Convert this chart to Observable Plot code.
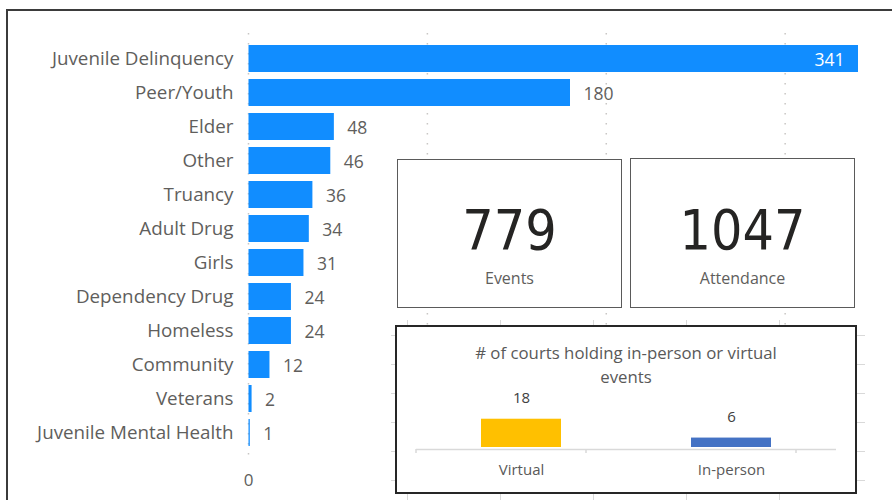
<!DOCTYPE html>
<html>
<head>
<meta charset="utf-8">
<script src="https://cdn.jsdelivr.net/npm/d3@7"></script>
<script src="https://cdn.jsdelivr.net/npm/@observablehq/plot@0.6"></script>
<style>
  html, body { margin: 0; padding: 0; background: #fff; }
  #wrap { position: relative; width: 892px; height: 500px; overflow: hidden; background: #fff; }
  #frame { position: absolute; left: 6px; top: 9px; width: 900px; height: 520px; border-left: 2px solid #3b3b3b; border-top: 2px solid #3b3b3b; }
  #main { position: absolute; left: 0; top: 0; }
  .card { position: absolute; box-sizing: border-box; background: #fff; border: 1.5px solid #5a5a5a; }
  .card .num { position: absolute; left: 0; right: 0; text-align: center; font-family: "Liberation Sans Narrow", "DejaVu Sans Condensed", sans-serif; font-size: 55px; color: #252423; line-height: 54px; height: 54px; }
  .card .lab { position: absolute; left: 0; right: 0; text-align: center; font-family: "Segoe UI", "Open Sans", sans-serif; font-size: 16px; color: #605E5C; line-height: 18px; height: 18px; }
  #cellgrid { position: absolute; left: 391px; top: 320px; width: 474px; height: 180px;
    background-image:
      repeating-linear-gradient(to right, transparent 0, transparent 16px, #d9d9d9 16px, #d9d9d9 17px, transparent 17px, transparent 93px),
      repeating-linear-gradient(to bottom, transparent 0, transparent 15px, #d9d9d9 15px, #d9d9d9 16px, transparent 16px, transparent 29px);
    background-size: 93px 100%, 100% 29px; }
  #box { position: absolute; box-sizing: border-box; left: 395px; top: 325px; width: 462px; height: 169px; background: #fff; border: 2px solid #262626; }
  #boxTitle { position: absolute; left: 395px; top: 341px; width: 462px; text-align: center; font-family: "Open Sans", sans-serif; font-size: 16.8px; line-height: 24px; color: #595959; }
  #small { position: absolute; left: 395px; top: 325px; }
</style>
</head>
<body>
<div id="wrap">
  <div id="frame"></div>
  <div id="main"></div>
  <div class="card" style="left:397px;top:159px;width:225px;height:149px;">
    <div class="num" id="n1" style="top:43px;"></div>
    <div class="lab" id="l1" style="top:109px;"></div>
  </div>
  <div class="card" style="left:630px;top:158px;width:225px;height:150px;">
    <div class="num" id="n2" style="top:44px;"></div>
    <div class="lab" id="l2" style="top:110px;"></div>
  </div>
  <div id="cellgrid"></div>
  <div id="box"></div>
  <div id="boxTitle"></div>
  <div id="small"></div>
</div>
<script>
// ---- Data ----
const courtTypes = ["Juvenile Delinquency", "Peer/Youth", "Elder", "Other", "Truancy", "Adult Drug", "Girls", "Dependency Drug", "Homeless", "Community", "Veterans", "Juvenile Mental Health"];
const courtCounts = [341, 180, 48, 46, 36, 34, 31, 24, 24, 12, 2, 1];
const xTicks = [0, 100, 200, 300];

const kpiLabels = ["Events", "Attendance"];
const kpiValues = [779, 1047];

const formatLabels = ["Virtual", "In-person"];
const formatCounts = [18, 6];
const formatColors = ["#FFC000", "#4472C4"];
const smallTitle = ["# of courts holding in-person or virtual", "events"];

// ---- Main bar chart ----
const rows = courtTypes.map((c, i) => ({ court: c, count: courtCounts[i] }));
const maxCount = d3.max(courtCounts);
const font = `"Segoe UI", "Open Sans", sans-serif`;

const main = Plot.plot({
  width: 892,
  height: 500,
  marginLeft: 248,
  marginRight: 34,
  marginTop: 33,
  marginBottom: 38,
  style: { fontFamily: font, background: "transparent", overflow: "visible" },
  x: { domain: [0, maxCount], axis: null },
  y: { domain: courtTypes, range: [40.4, 450.8], paddingInner: 0.21, paddingOuter: 0.105, axis: null },
  marks: [
    Plot.ruleX(xTicks, { stroke: "#c8c6c4", strokeWidth: 1.5, strokeDasharray: "1.5,8.5" }),
    Plot.axisX(xTicks, { anchor: "bottom", tickSize: 0, tickPadding: 11, fontSize: 17, color: "#605E5C", label: null }),
    Plot.axisY({ anchor: "left", tickSize: 0, tickPadding: 15, fontSize: 18.8, color: "#605E5C", label: null }),
    Plot.barX(rows, { x: "count", y: "court", fill: "#118DFF", insetLeft: 0.5 }),
    Plot.text(rows.filter(d => d.count !== maxCount), { x: "count", y: "court", text: d => String(d.count), textAnchor: "start", dx: 13, dy: 1.5, fontSize: 17.5, fill: "#605E5C" }),
    Plot.text(rows.filter(d => d.count === maxCount), { x: "count", y: "court", text: d => String(d.count), textAnchor: "end", dx: -14, dy: 1, fontSize: 17.5, fill: "#ffffff" })
  ]
});
document.getElementById("main").appendChild(main);

// ---- KPI cards ----
document.getElementById("n1").textContent = kpiValues[0];
document.getElementById("n2").textContent = kpiValues[1];
document.getElementById("l1").textContent = kpiLabels[0];
document.getElementById("l2").textContent = kpiLabels[1];

// ---- Small column chart ----
document.getElementById("boxTitle").innerHTML = smallTitle.join("<br>");
const fmt = formatLabels.map((f, i) => ({ format: f, count: formatCounts[i] }));
const small = Plot.plot({
  width: 462,
  height: 169,
  marginLeft: 21,
  marginRight: 21,
  marginTop: 90,
  marginBottom: 45,
  style: { fontFamily: `"Open Sans", sans-serif`, background: "transparent", overflow: "visible" },
  x: { domain: formatLabels, paddingInner: 0.618, paddingOuter: 0.309, axis: null },
  y: { domain: [0, 21], range: [122, 89], axis: null },
  color: { domain: formatLabels, range: formatColors },
  marks: [
    Plot.barY(fmt, { x: "format", y: "count", fill: "format" }),
    Plot.ruleY([0], { stroke: "#d9d9d9", strokeWidth: 1.5, dy: 2 }),
    Plot.text(fmt, { x: "format", y: "count", text: d => String(d.count), dy: -21, fontSize: 15, fill: "#404040" }),
    Plot.axisX({ anchor: "bottom", tickSize: 0, tickPadding: 15, fontSize: 15, color: "#595959", label: null })
  ]
});
// category divider ticks at band boundaries, from the x scale
const sx = small.scale("x");
const bounds = [sx.range[0], ...formatLabels.map(f => sx.apply(f) + sx.bandwidth / 2 + (sx.step - sx.bandwidth) / 2)];
d3.select(small).append("g").selectAll("line").data(bounds).join("line")
  .attr("x1", d => d).attr("x2", d => d).attr("y1", 124).attr("y2", 128)
  .attr("stroke", "#d9d9d9").attr("stroke-width", 1.5);
document.getElementById("small").appendChild(small);
</script>
</body>
</html>
